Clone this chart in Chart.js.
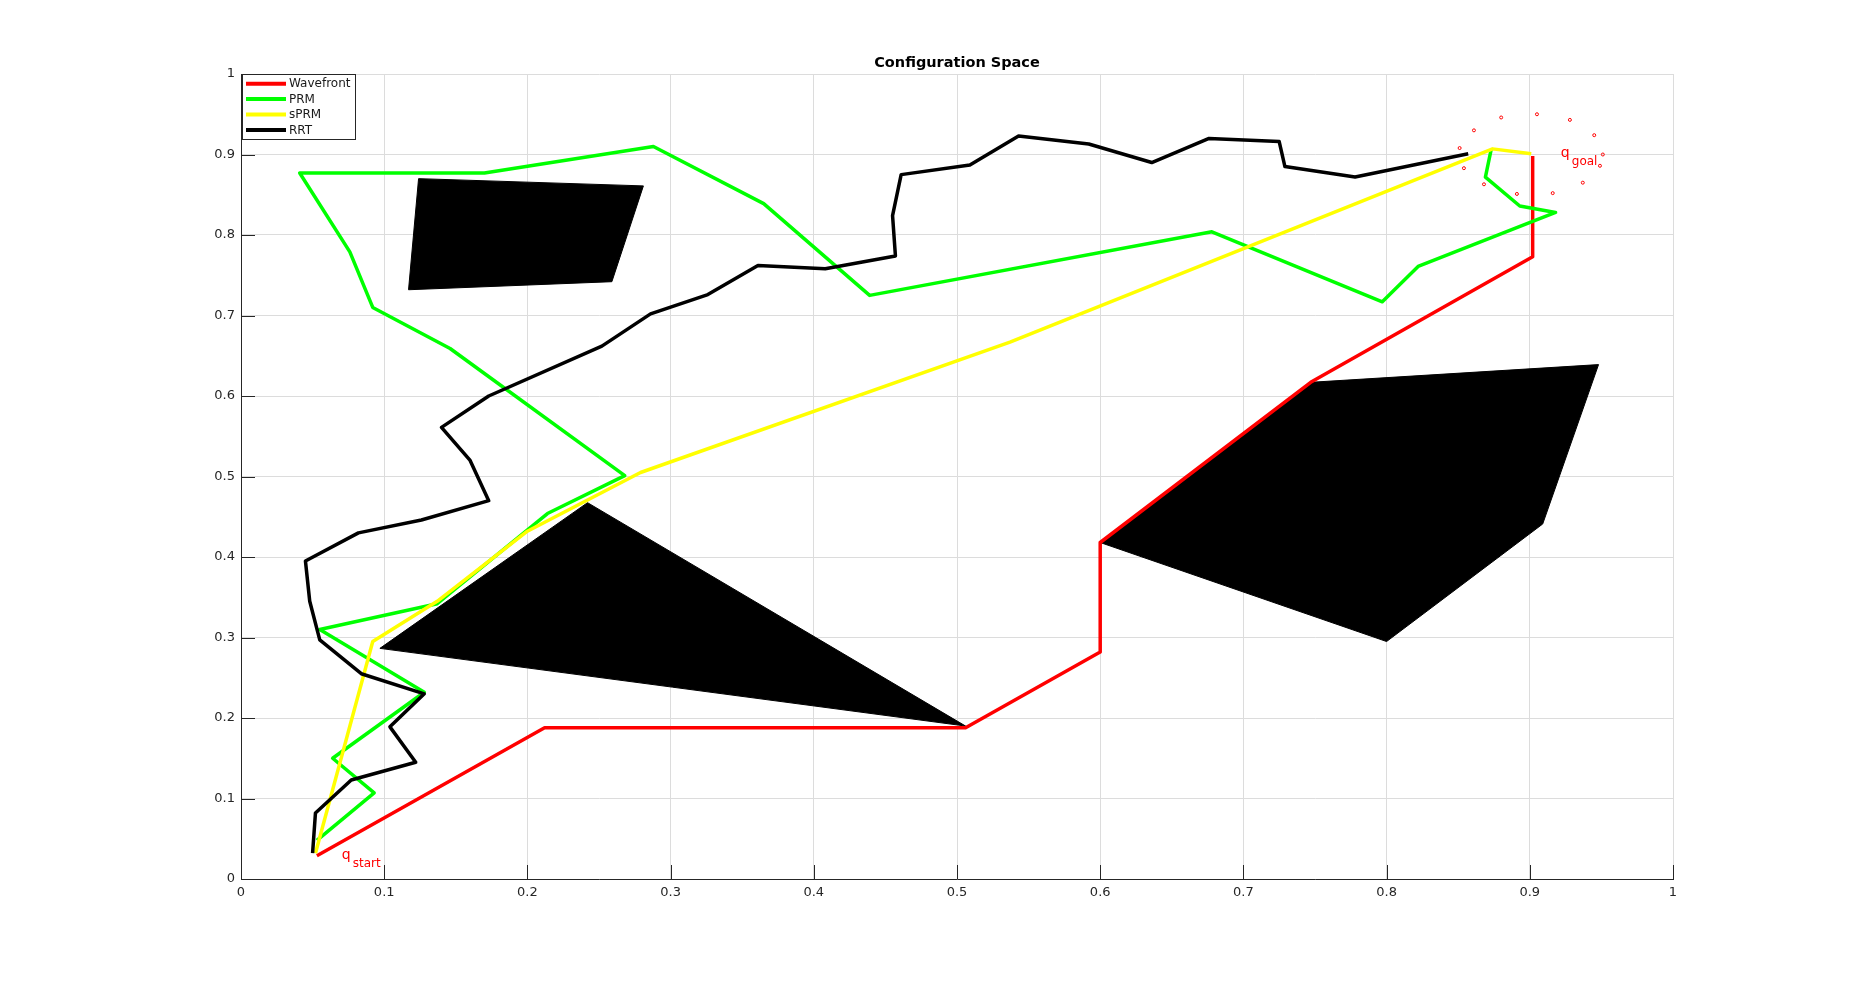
<!DOCTYPE html>
<html>
<head>
<meta charset="utf-8">
<title>Configuration Space</title>
<script src="https://cdn.jsdelivr.net/npm/chart.js@4.4.1/dist/chart.umd.min.js"></script>
<style>
  html, body { margin: 0; padding: 0; background: #fff; }
  canvas { display: block; }
</style>
</head>
<body>
<canvas id="cspace" width="1850" height="988"></canvas>
<script>
// tick labels
const xTicks = [0, 0.1, 0.2, 0.3, 0.4, 0.5, 0.6, 0.7, 0.8, 0.9, 1];
const yTicks = [0, 0.1, 0.2, 0.3, 0.4, 0.5, 0.6, 0.7, 0.8, 0.9, 1];

// planner paths
const wavefrontX = [0.053, 0.212, 0.506, 0.600, 0.600, 0.747, 0.902, 0.902];
const wavefrontY = [0.029, 0.188, 0.188, 0.282, 0.418, 0.617, 0.773, 0.898];

const prmX = [0.053, 0.093, 0.064, 0.128, 0.055, 0.137, 0.214, 0.268, 0.146, 0.092, 0.076, 0.041,
  0.170, 0.288, 0.365, 0.439, 0.678, 0.797, 0.822, 0.918, 0.893, 0.869, 0.873];
const prmY = [0.048, 0.107, 0.150, 0.232, 0.310, 0.342, 0.454, 0.501, 0.659, 0.710, 0.779, 0.877,
  0.877, 0.910, 0.839, 0.725, 0.804, 0.717, 0.761, 0.828, 0.836, 0.872, 0.906];

const sprmX = [0.052, 0.092, 0.137, 0.200, 0.279, 0.537, 0.874, 0.901];
const sprmY = [0.032, 0.295, 0.345, 0.432, 0.505, 0.667, 0.907, 0.901];

const rrtX = [0.050, 0.052, 0.077, 0.122, 0.104, 0.128, 0.084, 0.055, 0.048, 0.045, 0.082, 0.126,
  0.173, 0.160, 0.140, 0.173, 0.252, 0.286, 0.326, 0.361, 0.408, 0.457, 0.455, 0.461, 0.509,
  0.543, 0.592, 0.636, 0.676, 0.725, 0.729, 0.778, 0.857];
const rrtY = [0.032, 0.082, 0.123, 0.145, 0.189, 0.230, 0.255, 0.297, 0.345, 0.395, 0.430, 0.446,
  0.470, 0.520, 0.561, 0.600, 0.662, 0.702, 0.726, 0.762, 0.758, 0.774, 0.824, 0.875, 0.887,
  0.923, 0.913, 0.890, 0.920, 0.916, 0.885, 0.872, 0.901];

// obstacles (closed polygons)
const obsQuadX = [0.124, 0.281, 0.259, 0.117, 0.124];
const obsQuadY = [0.870, 0.861, 0.742, 0.732, 0.870];
const obsTriX = [0.242, 0.097, 0.506, 0.242];
const obsTriY = [0.4675, 0.2865, 0.190, 0.4675];
const obsPentX = [0.600, 0.747, 0.948, 0.909, 0.800, 0.600];
const obsPentY = [0.418, 0.617, 0.639, 0.441, 0.295, 0.418];

// goal region samples
const goalX = [0.880, 0.905, 0.928, 0.945, 0.951, 0.949, 0.937, 0.916, 0.891, 0.868, 0.854, 0.851, 0.861];
const goalY = [0.946, 0.950, 0.943, 0.924, 0.900, 0.886, 0.865, 0.852, 0.851, 0.863, 0.883, 0.908, 0.930];

const legendLabels = ['Wavefront', 'PRM', 'sPRM', 'RRT'];
const textLabels = [
  { main: 'q', sub: 'start', x: 0.0704, y: 0.0286 },
  { main: 'q', sub: 'goal', x: 0.9217, y: 0.9006 }
];

function pts(xs, ys) {
  return xs.map((x, i) => ({ x: x, y: ys[i] }));
}

function path(label, xs, ys, color, order) {
  return {
    label: label,
    data: pts(xs, ys),
    borderColor: color,
    backgroundColor: color,
    borderWidth: 3.5,
    borderJoinStyle: 'round',
    pointRadius: 0,
    fill: false,
    order: order
  };
}

function obstacle(xs, ys) {
  return {
    label: 'obstacle',
    data: pts(xs, ys),
    borderColor: '#000',
    backgroundColor: '#000',
    borderWidth: 1,
    pointRadius: 0,
    fill: 'shape',
    order: 10
  };
}

const axisColor = '#262626';
const font = 'DejaVu Sans';

const extras = {
  id: 'extras',
  beforeDatasetsDraw(chart) {
    const { ctx, chartArea: a, scales } = chart;
    ctx.save();
    ctx.strokeStyle = axisColor;
    ctx.lineWidth = 1;
    ctx.beginPath();
    xTicks.forEach(v => {
      const px = Math.round(scales.x.getPixelForValue(v)) + 0.5;
      ctx.moveTo(px, a.bottom);
      ctx.lineTo(px, a.bottom - 14);
    });
    yTicks.forEach(v => {
      const py = Math.round(scales.y.getPixelForValue(v)) + 0.5;
      ctx.moveTo(a.left, py);
      ctx.lineTo(a.left + 14, py);
    });
    ctx.stroke();
    ctx.restore();
  },
  afterDatasetsDraw(chart) {
    const { ctx, chartArea: a, scales } = chart;
    ctx.save();

    // q labels
    ctx.fillStyle = '#ff0000';
    ctx.textBaseline = 'alphabetic';
    ctx.textAlign = 'left';
    textLabels.forEach(t => {
      const px = scales.x.getPixelForValue(t.x);
      const py = scales.y.getPixelForValue(t.y) + 3;
      ctx.font = '14px "' + font + '"';
      ctx.fillText(t.main, px, py);
      const w = ctx.measureText(t.main).width;
      ctx.font = '12px "' + font + '"';
      ctx.fillText(t.sub, px + w + 2, py + 8);
    });

    // legend box, top left inside the axes
    const lx = a.left + 1.5, ly = a.top + 0.5;
    ctx.fillStyle = '#fff';
    ctx.fillRect(lx, ly, 113, 65);
    ctx.strokeStyle = axisColor;
    ctx.lineWidth = 1;
    ctx.strokeRect(lx, ly, 113, 65);
    ctx.font = '12px "' + font + '"';
    ctx.textBaseline = 'middle';
    legendLabels.forEach((lab, i) => {
      const ds = chart.data.datasets.find(d => d.label === lab);
      const y = a.top + 9.7 + i * 15.4;
      ctx.strokeStyle = ds.borderColor;
      ctx.lineWidth = 4;
      ctx.beginPath();
      ctx.moveTo(a.left + 5, y);
      ctx.lineTo(a.left + 45, y);
      ctx.stroke();
      ctx.fillStyle = '#1a1a1a';
      ctx.fillText(lab, a.left + 48, y + 0.5);
    });

    // title
    ctx.fillStyle = '#000';
    ctx.font = 'bold 14.5px "' + font + '"';
    ctx.textAlign = 'center';
    ctx.fillText('Configuration Space', (a.left + a.right) / 2, 63.5);
    ctx.restore();
  }
};

const ctx = document.getElementById('cspace').getContext('2d');

new Chart(ctx, {
  type: 'line',
  data: {
    datasets: [
      obstacle(obsQuadX, obsQuadY),
      obstacle(obsTriX, obsTriY),
      obstacle(obsPentX, obsPentY),
      path('Wavefront', wavefrontX, wavefrontY, '#ff0000', 4),
      path('PRM', prmX, prmY, '#00ff00', 3),
      path('sPRM', sprmX, sprmY, '#ffff00', 2),
      path('RRT', rrtX, rrtY, '#000000', 1),
      {
        label: 'goal samples',
        data: pts(goalX, goalY),
        showLine: false,
        pointRadius: 1.5,
        pointBorderWidth: 1,
        pointBorderColor: '#ff0000',
        pointBackgroundColor: 'rgba(0,0,0,0)',
        order: 0
      }
    ]
  },
  options: {
    responsive: false,
    animation: false,
    devicePixelRatio: 1,
    layout: { padding: { left: 200, right: 177, top: 74, bottom: 79 } },
    plugins: {
      legend: { display: false },
      title: { display: false },
      tooltip: { enabled: false }
    },
    scales: {
      x: {
        type: 'linear',
        min: 0,
        max: 1,
        afterBuildTicks: s => { s.ticks = xTicks.map(v => ({ value: v })); },
        afterFit: s => { s.height = 30; },
        ticks: {
          padding: 6,
          color: axisColor,
          font: { family: font, size: 13 },
          maxRotation: 0,
          callback: v => String(+v.toFixed(1))
        },
        grid: { color: '#dcdcdc', lineWidth: 1, drawTicks: false },
        border: { display: true, color: axisColor, width: 1 }
      },
      y: {
        type: 'linear',
        min: 0,
        max: 1,
        afterBuildTicks: s => { s.ticks = yTicks.map(v => ({ value: v })); },
        afterFit: s => { s.width = 41; },
        ticks: {
          padding: 6,
          color: axisColor,
          font: { family: font, size: 13 },
          callback: v => String(+v.toFixed(1))
        },
        grid: { color: '#dcdcdc', lineWidth: 1, drawTicks: false },
        border: { display: true, color: axisColor, width: 1 }
      }
    }
  },
  plugins: [extras]
});
</script>
</body>
</html>
